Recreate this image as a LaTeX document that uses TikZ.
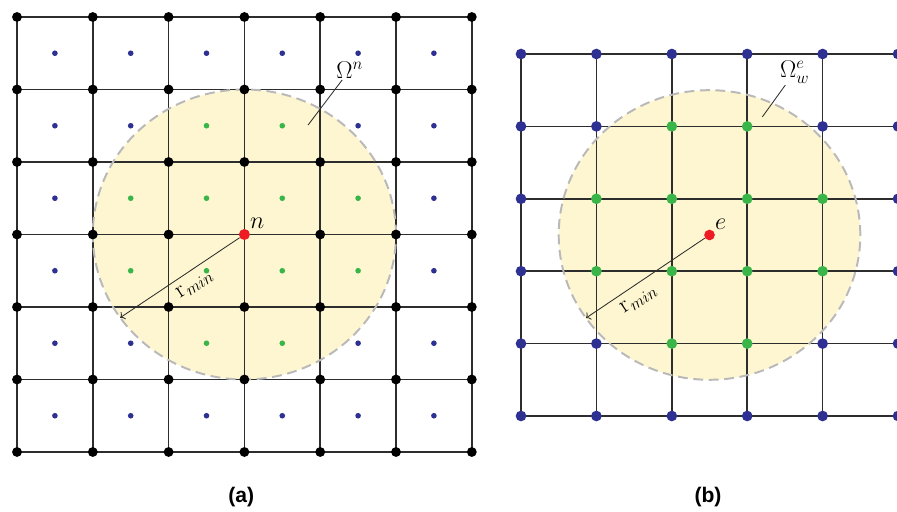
\documentclass[tikz,border=0pt]{standalone}
\usepackage{fontspec}
\newfontfamily\capfont{Liberation Sans}
\usetikzlibrary{arrows.meta}
\definecolor{dotblue}{RGB}{46,49,146}
\definecolor{dotgreen}{RGB}{57,181,74}
\definecolor{dotred}{RGB}{237,28,36}
\definecolor{suppfill}{RGB}{254,246,208}
\definecolor{suppedge}{RGB}{185,185,185}
\definecolor{gridline}{RGB}{45,45,45}
\tikzset{
  gridln/.style={draw=gridline, line width=1.2pt},
  bignode/.style={circle, fill=black, inner sep=0pt, minimum size=7pt},
  cellpt/.style={circle, fill=#1, inner sep=0pt, minimum size=4pt},
  meshpt/.style={circle, fill=#1, inner sep=0pt, minimum size=7.6pt},
  centrept/.style={circle, fill=dotred, inner sep=0pt, minimum size=7.8pt},
  rim/.style={draw=suppedge, line width=1.4pt, dash pattern=on 7pt off 4pt},
  lbl/.style={font=\fontsize{17}{20}\selectfont, inner sep=1pt},
  leader/.style={draw=gridline, line width=0.6pt},
  caption/.style={font=\capfont\bfseries\fontsize{15}{18}\selectfont}
}
\begin{document}
\begin{tikzpicture}
      \useasboundingbox (0,0) rectangle (22.425,12.8);
      \begin{scope}[shift={(0.425,1.5)}, x=1.895cm, y=1.8125cm]
        \foreach \i in {0,...,6}
          \foreach \j in {0,...,6}
            \coordinate (a-\i-\j) at (\i,\j);
        \fill[suppfill] (3,3) circle [radius=2];
        \foreach \k in {0,...,6} {
          \draw[gridln] (a-0-\k) -- (a-6-\k);
          \draw[gridln] (a-\k-0) -- (a-\k-6);
        }
        \draw[rim] (3,3) circle [radius=2];
        \foreach \i in {0,...,6}
          \foreach \j in {0,...,6}
            \node[bignode] (na-\i-\j) at (a-\i-\j) {};
        \foreach \i in {0,...,5}
          \foreach \j in {0,...,5} {
            \pgfmathtruncatemacro\ins{((\i-2.5)*(\i-2.5)+(\j-2.5)*(\j-2.5))<4}
            \ifnum\ins=1 \def\col{dotgreen}\else\def\col{dotblue}\fi
            \node[cellpt=\col] (ca-\i-\j) at (\i+0.5,\j+0.5) {};
          }
        \node[centrept] (n) at (a-3-3) {};
        \node[lbl, anchor=south west] (nlab) at (n.north east) {$n$};
        \path (3,3) ++(215:2) coordinate (rimA);
        \draw[leader, ->] (n) -- (rimA)
          node[pos=0.44, sloped, below=4pt, lbl] (rA) {$\mathrm{r}_{min}$};
        \node[lbl] (omn) at (4.39,5.27) {$\Omega^{n}$};
        \coordinate (omn-end) at (3.84,4.51);
        \draw[leader] (omn) -- (omn-end);
      \end{scope}
      \begin{scope}[shift={(13.025,2.4)}, x=1.885cm, y=1.81cm]
        \foreach \i in {0,...,5}
          \foreach \j in {0,...,5}
            \coordinate (b-\i-\j) at (\i,\j);
        \fill[suppfill] (2.5,2.5) circle [radius=2];
        \foreach \k in {0,...,5} {
          \draw[gridln] (b-0-\k) -- (b-5-\k);
          \draw[gridln] (b-\k-0) -- (b-\k-5);
        }
        \draw[rim] (2.5,2.5) circle [radius=2];
        \foreach \i in {0,...,5}
          \foreach \j in {0,...,5} {
            \pgfmathtruncatemacro\ins{((\i-2.5)*(\i-2.5)+(\j-2.5)*(\j-2.5))<4}
            \ifnum\ins=1 \def\col{dotgreen}\else\def\col{dotblue}\fi
            \node[meshpt=\col] (nb-\i-\j) at (b-\i-\j) {};
          }
        \node[centrept, minimum size=7.6pt] (e) at (2.5,2.5) {};
        \node[lbl, anchor=south west] (elab) at (e.north east) {$e$};
        \path (2.5,2.5) ++(215:2) coordinate (rimB);
        \draw[leader, ->] (e) -- (rimB)
          node[pos=0.62, sloped, below=4pt, lbl] (rB) {$\mathrm{r}_{min}$};
        \node[lbl] (ome) at (3.63,4.75) {$\Omega^{e}_{w}$};
        \coordinate (ome-end) at (3.20,4.13);
        \draw[leader] (ome) -- (ome-end);
      \end{scope}
      \node[caption] (capa) at (6.03,0.375) {(a)};
      \node[caption] (capb) at (17.7,0.375) {(b)};
    \end{tikzpicture}
\end{document}
